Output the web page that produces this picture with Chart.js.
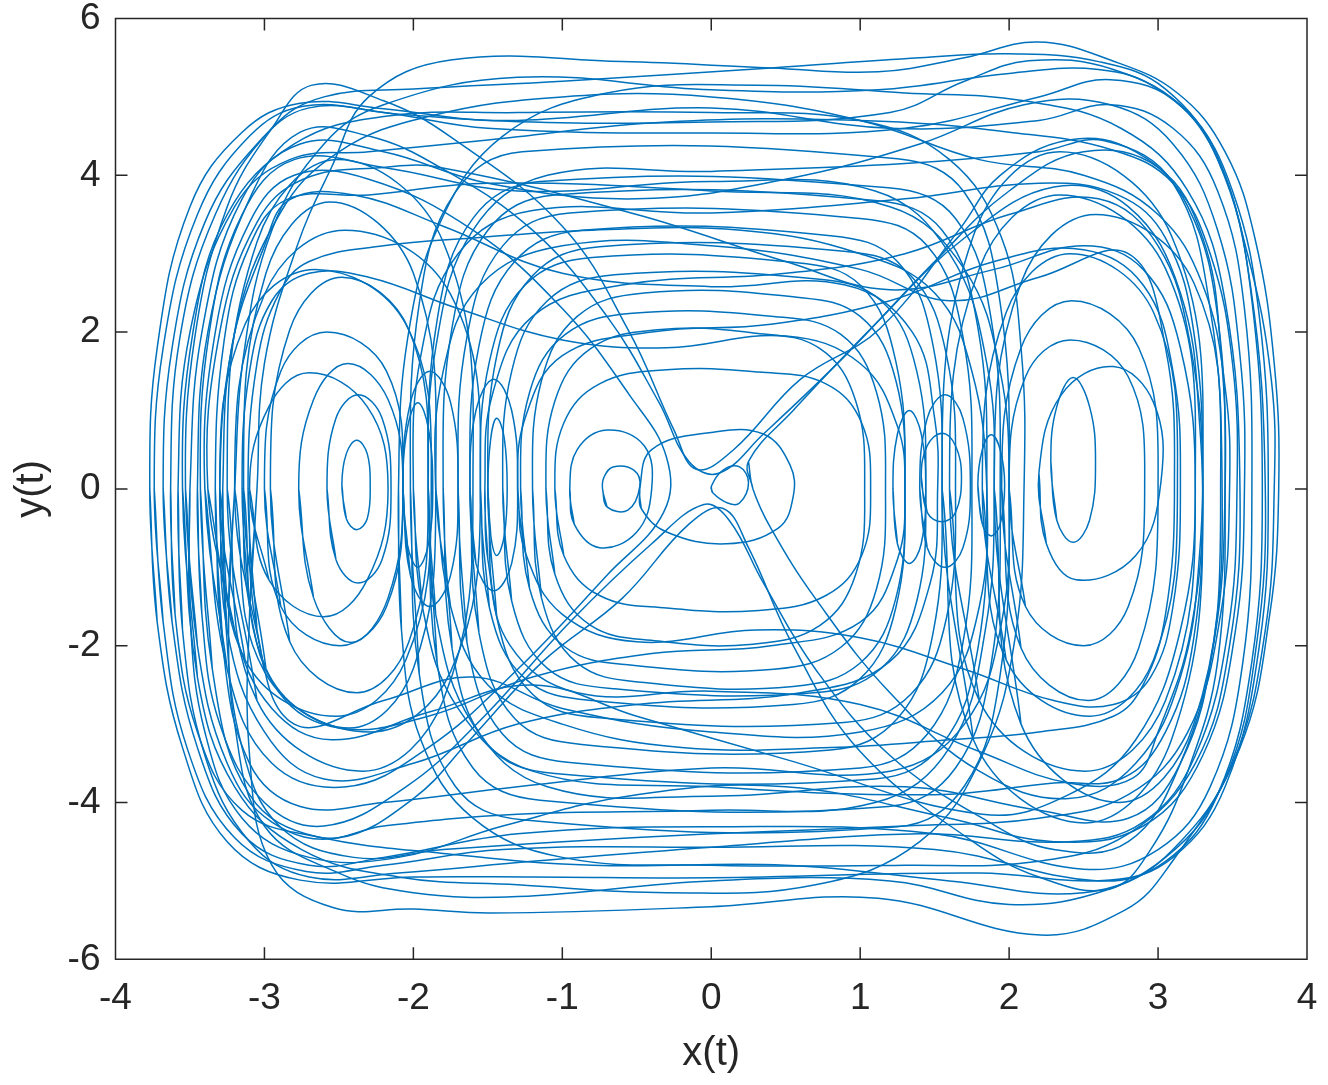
<!DOCTYPE html>
<html>
<head>
    <meta charset="utf-8">
    <title>Phase portrait</title>
    <script src="https://cdn.jsdelivr.net/npm/chart.js"></script>
    <style>
        html, body { margin: 0; padding: 0; background: #fff; }
        #wrap { width: 1328px; height: 1085px; }
    </style>
</head>
<body>
    <div id="wrap"><canvas id="phaseChart" width="1328" height="1085"></canvas></div>
    <script>
        // tick labels
        var xTicks = [-4, -3, -2, -1, 0, 1, 2, 3, 4];
        var yTicks = [-6, -4, -2, 0, 2, 4, 6];

        // trajectory as [x, y] points, each loop traced clockwise
        var bigLoops = [
            [[-3.05,0],[-3.0,1.6],[-2.78,3.1],[-2.55,4.1],[-2.3,5.0],[-1.75,5.47],[-0.6,5.45],[0.4,5.37],[1.12,5.32],[1.7,5.5],[2.19,5.7],[2.68,5.47],[3.13,5.05],[3.45,4.3],[3.65,3.2],[3.78,1.6],[3.81,0],[3.75,-1.6],[3.55,-3.3],[3.07,-4.82],[2.78,-5.37],[2.21,-5.69],[1.12,-5.22],[0,-5.33],[-1.48,-5.41],[-2.0,-5.36],[-2.54,-5.34],[-2.95,-4.8],[-3.1,-3.4],[-3.1,-1.6]],
            [[-3.77,0],[-3.72,1.8],[-3.5,3.6],[-3.15,4.55],[-2.76,4.92],[-2.2,4.85],[-1.5,4.7],[0,4.68],[1.2,4.8],[1.7,5.2],[2.13,5.46],[2.7,5.35],[3.2,4.8],[3.5,3.8],[3.68,2.2],[3.74,0],[3.68,-2.0],[3.45,-3.8],[3.1,-4.7],[2.68,-4.99],[1.8,-4.9],[0,-4.96],[-1.2,-4.95],[-2.0,-4.95],[-2.76,-4.99],[-3.25,-4.5],[-3.55,-3.3],[-3.72,-1.7]],
            [[-3.74,0],[-3.68,1.8],[-3.45,3.5],[-3.1,4.5],[-2.74,4.88],[-2.2,4.8],[-1.5,4.6],[0,4.54],[1.3,4.6],[2.2,5.0],[2.68,5.22],[3.15,4.9],[3.45,4.0],[3.63,2.4],[3.7,0],[3.63,-2.2],[3.4,-3.9],[3.05,-4.75],[2.6,-5.0],[1.5,-4.6],[0,-4.57],[-1.4,-4.6],[-2.2,-4.8],[-2.72,-4.88],[-3.2,-4.45],[-3.52,-3.3],[-3.68,-1.7]],
            [[-3.68,0],[-3.62,1.8],[-3.4,3.4],[-3.05,4.4],[-2.7,4.86],[-2.1,4.78],[-1.3,4.7],[0,4.86],[1.2,4.6],[2.2,4.7],[2.68,4.9],[3.1,4.6],[3.4,3.8],[3.58,2.3],[3.63,0],[3.57,-2.2],[3.35,-3.8],[3.0,-4.6],[2.5,-4.85],[1.5,-4.4],[0,-4.31],[-1.3,-4.4],[-2.2,-4.7],[-2.7,-4.8],[-3.15,-4.4],[-3.45,-3.3],[-3.62,-1.7]],
            [[-3.63,0],[-3.57,1.9],[-3.33,3.5],[-2.95,4.6],[-2.6,5.0],[-2.0,5.1],[-1.0,5.2],[0.4,5.37],[1.4,5.5],[2.0,5.55],[2.6,5.45],[3.05,5.1],[3.4,4.2],[3.62,2.6],[3.72,0],[3.66,-2.0],[3.45,-3.7],[3.05,-4.7],[2.5,-5.15],[1.6,-5.0],[0.5,-4.8],[-0.8,-4.8],[-1.8,-4.65],[-2.64,-4.44],[-3.15,-4.1],[-3.45,-3.1],[-3.6,-1.6]],
            [[-3.58,0],[-3.5,2.0],[-3.2,3.6],[-2.83,4.2],[-2.3,4.3],[-1.5,4.45],[-0.3,4.68],[1.0,4.7],[2.0,4.55],[2.7,4.32],[3.1,3.9],[3.35,3.0],[3.5,1.6],[3.53,0],[3.47,-1.8],[3.25,-3.4],[2.9,-4.25],[2.4,-4.5],[1.4,-4.4],[0,-4.57],[-1.2,-4.75],[-2.1,-4.9],[-2.7,-4.95],[-3.1,-4.5],[-3.4,-3.4],[-3.55,-1.8]],
            [[-3.2,0],[-3.14,1.7],[-2.95,3.3],[-2.6,4.4],[-2.2,4.9],[-1.3,5.25],[0,5.09],[1.12,5.09],[2.0,5.3],[2.6,5.35],[3.0,5.1],[3.35,4.4],[3.6,3.0],[3.76,1.4],[3.78,0],[3.72,-1.8],[3.5,-3.5],[3.1,-4.6],[2.68,-5.1],[2.0,-5.3],[1.2,-5.0],[0,-5.0],[-1.3,-5.2],[-2.0,-5.15],[-2.5,-4.9],[-3.0,-4.3],[-3.2,-3.0],[-3.24,-1.5]]
        ];

        var diagonalLoops = [
            [[-2.1,0],[-2.04,1.9],[-1.82,3.4],[-1.4,4.5],[-0.7,5.05],[0.3,5.15],[1.3,5.05],[2.1,4.95],[2.75,4.6],[3.2,3.8],[3.45,2.4],[3.55,0],[3.48,-2.0],[3.25,-3.5],[2.8,-4.4],[2.2,-4.75],[1.3,-4.8],[0,-4.8],[-1.0,-4.7],[-1.6,-4.2],[-1.95,-3.2],[-2.08,-1.8]],
            [[-3.5,0],[-3.42,2.0],[-3.15,3.7],[-2.76,4.4],[-2.2,4.3],[-1.5,3.9],[-0.5,3.7],[0.5,3.95],[1.4,4.4],[2.1,4.9],[2.68,4.9],[3.1,4.4],[3.4,3.3],[3.55,1.7],[3.58,0],[3.52,-1.8],[3.3,-3.4],[2.9,-4.3],[2.3,-4.5],[1.6,-4.2],[0.5,-3.8],[-0.5,-3.9],[-1.4,-4.3],[-2.1,-4.7],[-2.7,-4.7],[-3.15,-4.2],[-3.4,-3.1],[-3.5,-1.6]],
            [[-3.28,0],[-3.2,2.0],[-2.9,3.5],[-2.5,4.3],[-1.9,4.75],[-1.0,5.0],[0,5.0],[1.0,4.7],[1.8,4.2],[2.5,4.0],[3.0,3.5],[3.3,2.6],[3.45,1.3],[3.48,0],[3.42,-1.6],[3.2,-3.1],[2.8,-3.9],[2.2,-4.2],[1.3,-4.3],[0,-4.4],[-1.0,-4.5],[-1.8,-4.6],[-2.4,-4.7],[-2.9,-4.3],[-3.15,-3.3],[-3.26,-1.7]],
            [[-3.55,0],[-3.48,2.0],[-3.25,3.5],[-2.8,4.4],[-2.2,4.75],[-1.3,4.8],[0,4.8],[1.0,4.7],[1.6,4.2],[1.95,3.2],[2.08,1.8],[2.1,0],[2.04,-1.9],[1.82,-3.4],[1.4,-4.5],[0.7,-5.05],[-0.3,-5.15],[-1.3,-5.05],[-2.1,-4.95],[-2.75,-4.6],[-3.2,-3.8],[-3.45,-2.4]]
        ];

        var pinchedLoops = [
            [[-3.53,0],[-3.47,1.9],[-3.25,3.6],[-2.95,4.6],[-2.68,5.15],[-2.2,4.95],[-1.75,4.49],[-1.0,3.35],[-0.55,2.0],[-0.25,0.75],[-0.1,0.25],[0.15,0.5],[0.6,1.4],[1.13,2.04],[1.67,3.32],[1.94,4.0],[2.4,4.45],[2.85,4.3],[3.2,3.6],[3.4,2.2],[3.45,0],[3.4,-2.2],[3.2,-3.6],[2.95,-4.6],[2.68,-5.1],[2.2,-4.95],[1.75,-4.49],[1.0,-3.35],[0.55,-2.0],[0.25,-0.75],[0.08,-0.25],[-0.15,-0.45],[-0.6,-1.4],[-1.13,-2.2],[-1.62,-3.2],[-2.0,-3.95],[-2.5,-4.45],[-2.95,-4.25],[-3.25,-3.5],[-3.45,-2.0]],
            [[-3.45,0],[-3.38,2.0],[-3.1,3.7],[-2.76,4.55],[-2.3,4.5],[-1.82,4.1],[-1.2,3.3],[-0.7,2.2],[-0.35,1.1],[-0.15,0.35],[0.05,0.2],[0.35,0.7],[0.9,1.7],[1.5,2.9],[2.0,3.8],[2.5,4.3],[3.0,4.1],[3.3,3.2],[3.42,1.8],[3.45,0],[3.38,-1.9],[3.15,-3.5],[2.8,-4.5],[2.3,-4.6],[1.82,-4.2],[1.2,-3.4],[0.7,-2.3],[0.35,-1.2],[0.12,-0.4],[-0.05,-0.2],[-0.4,-0.7],[-0.95,-1.7],[-1.55,-2.95],[-2.05,-3.8],[-2.6,-4.3],[-3.0,-4.0],[-3.3,-3.0],[-3.42,-1.6]],
            [[-3.38,0],[-3.3,2.0],[-3.05,3.4],[-2.74,3.95],[-2.2,4.1],[-1.82,4.1],[-0.5,3.5],[0.5,2.9],[1.2,2.54],[1.9,2.8],[2.5,3.1],[2.9,2.8],[3.15,1.8],[3.25,0],[3.15,-1.8],[2.85,-3.2],[2.4,-3.9],[1.82,-4.15],[0.5,-3.45],[-0.5,-2.9],[-1.2,-2.5],[-1.9,-2.85],[-2.55,-3.2],[-2.95,-2.8],[-3.2,-1.8]],
            [[-3.4,0],[-3.33,2.0],[-3.1,3.4],[-2.8,4.0],[-2.3,3.95],[-1.6,3.3],[-1.0,2.3],[-0.55,1.2],[-0.3,0.4],[-0.32,-0.3],[-0.7,-1.1],[-1.3,-2.3],[-1.9,-3.3],[-2.45,-3.8],[-2.95,-3.5],[-3.25,-2.3]],
            [[0.25,0.35],[0.55,1.0],[1.1,2.1],[1.7,3.2],[2.3,3.85],[2.8,3.6],[3.15,2.5],[3.28,0.8],[3.28,-0.8],[3.15,-2.4],[2.85,-3.5],[2.4,-3.95],[1.8,-3.6],[1.2,-2.6],[0.7,-1.4],[0.4,-0.5],[0.28,0]]
        ];

        var transferLoops = [
            [[-3.3,0],[-3.22,1.8],[-3.0,3.1],[-2.83,3.69],[-2.4,3.75],[-1.8,3.35],[-1.0,2.75],[0,2.58],[0.9,2.6],[1.35,2.0],[1.5,0.9],[1.52,0],[1.47,-1.2],[1.2,-2.2],[0.6,-2.6],[-0.5,-2.75],[-1.3,-3.0],[-2.0,-3.5],[-2.6,-3.7],[-3.0,-3.1],[-3.25,-1.8]],
            [[-3.11,0],[-3.05,1.6],[-2.9,2.5],[-2.7,2.9],[-2.2,3.1],[-1.6,3.2],[-0.8,3.3],[0.2,3.3],[1.0,3.0],[1.5,2.5],[1.75,1.5],[1.85,0],[1.8,-1.5],[1.55,-2.6],[1.0,-3.1],[0,-3.1],[-1.0,-2.8],[-1.6,-2.4],[-2.2,-2.7],[-2.8,-3.0],[-3.05,-1.8]],
            [[-3.15,0],[-3.1,1.5],[-2.95,2.4],[-2.7,2.75],[-2.3,2.7],[-1.7,2.3],[-1.0,1.9],[-0.3,1.8],[0.5,1.95],[1.0,1.6],[1.25,0.8],[1.3,0],[1.25,-0.9],[1.0,-1.7],[0.4,-2.0],[-0.4,-2.1],[-1.2,-2.4],[-1.9,-2.9],[-2.5,-3.05],[-2.9,-2.6],[-3.1,-1.5]],
            [[-1.52,0],[-1.47,1.2],[-1.2,2.2],[-0.6,2.6],[0.5,2.75],[1.3,3.0],[2.0,3.5],[2.6,3.7],[3.0,3.1],[3.22,1.8],[3.3,0],[3.22,-1.8],[3.0,-3.1],[2.83,-3.69],[2.4,-3.75],[1.8,-3.35],[1.0,-2.75],[0,-2.58],[-0.9,-2.6],[-1.35,-2.0],[-1.5,-0.9]],
            [[-1.85,0],[-1.8,1.5],[-1.55,2.6],[-1.0,3.1],[0,3.1],[1.0,2.8],[1.6,2.4],[2.2,2.7],[2.8,3.0],[3.05,1.8],[3.11,0],[3.05,-1.6],[2.9,-2.5],[2.7,-2.9],[2.2,-3.1],[1.6,-3.2],[0.8,-3.3],[-0.2,-3.3],[-1.0,-3.0],[-1.5,-2.5],[-1.75,-1.5]],
            [[-1.3,0],[-1.25,0.9],[-1.0,1.7],[-0.4,2.0],[0.4,2.1],[1.2,2.4],[1.9,2.9],[2.5,3.05],[2.9,2.6],[3.1,1.5],[3.15,0],[3.1,-1.5],[2.95,-2.4],[2.7,-2.75],[2.3,-2.7],[1.7,-2.3],[1.0,-1.9],[0.3,-1.8],[-0.5,-1.95],[-1.0,-1.6],[-1.25,-0.8]]
        ];

        var mixedLoops = [
            [[-3.33,0],[-3.27,1.9],[-3.1,3.1],[-2.85,3.69],[-2.3,3.75],[-1.5,3.9],[0,3.8],[1.2,3.6],[1.7,2.8],[1.94,1.5],[2.0,0],[1.95,-1.7],[1.7,-3.0],[1.2,-3.6],[0,-3.56],[-1.3,-3.8],[-2.2,-4.0],[-2.76,-4.05],[-3.1,-3.5],[-3.28,-2.0]],
            [[-3.43,0],[-3.37,2.0],[-3.15,3.5],[-2.8,4.2],[-2.2,4.1],[-1.3,3.8],[0,3.92],[1.1,3.8],[1.6,3.0],[1.85,1.6],[1.9,0],[1.84,-1.8],[1.6,-3.3],[1.1,-4.0],[0,-4.1],[-1.3,-4.15],[-2.2,-4.3],[-2.64,-4.44],[-3.1,-3.9],[-3.35,-2.3]],
            [[-2.0,0],[-1.95,1.7],[-1.7,3.0],[-1.2,3.55],[0,3.52],[1.3,3.7],[2.2,3.9],[2.73,3.75],[3.05,3.2],[3.24,2.0],[3.3,0],[3.24,-1.9],[3.05,-3.1],[2.76,-3.69],[2.3,-3.75],[1.5,-3.9],[0,-3.8],[-1.2,-3.6],[-1.7,-2.8],[-1.94,-1.5]],
            [[-1.9,0],[-1.85,1.8],[-1.6,3.3],[-1.1,4.0],[0,4.05],[1.3,4.15],[2.2,4.3],[2.64,4.44],[3.1,3.9],[3.35,2.3],[3.43,0],[3.37,-2.0],[3.15,-3.5],[2.8,-4.2],[2.2,-4.1],[1.3,-3.8],[0,-3.92],[-1.1,-3.8],[-1.6,-3.0],[-1.85,-1.6]]
        ];

        var centerLoops = [
            [[-1.05,0],[-0.99,0.84],[-0.75,1.34],[-0.3,1.52],[0.32,1.49],[0.77,1.34],[1.01,0.84],[1.07,0],[1.01,-0.85],[0.77,-1.36],[0.32,-1.55],[-0.3,-1.52],[-0.75,-1.36],[-0.99,-0.85]],
            [[-1.11,0],[-1.05,1.12],[-0.81,1.79],[-0.36,2.03],[0.28,1.99],[0.73,1.79],[0.97,1.12],[1.03,0],[0.97,-1.09],[0.73,-1.74],[0.28,-1.98],[-0.36,-1.94],[-0.81,-1.74],[-1.05,-1.09]],
            [[-1.28,0],[-1.22,1.23],[-0.98,1.97],[-0.53,2.24],[0.42,2.2],[0.87,1.97],[1.11,1.23],[1.17,0],[1.11,-1.27],[0.87,-2.02],[0.42,-2.3],[-0.53,-2.25],[-0.98,-2.02],[-1.22,-1.27]],
            [[-1.2,0],[-1.14,1.38],[-0.9,2.2],[-0.45,2.5],[0.55,2.45],[1.0,2.2],[1.24,1.38],[1.3,0],[1.24,-1.39],[1.0,-2.22],[0.55,-2.52],[-0.45,-2.47],[-0.9,-2.22],[-1.14,-1.39]],
            [[-1.4,0],[-1.34,1.5],[-1.1,2.4],[-0.65,2.73],[0.69,2.68],[1.14,2.4],[1.38,1.5],[1.44,0],[1.38,-1.43],[1.14,-2.29],[0.69,-2.6],[-0.65,-2.55],[-1.1,-2.29],[-1.34,-1.43]],
            [[-1.55,0],[-1.49,1.62],[-1.25,2.6],[-0.8,2.95],[0.55,2.89],[1.0,2.6],[1.24,1.62],[1.3,0],[1.24,-1.51],[1.0,-2.42],[0.55,-2.75],[-0.8,-2.7],[-1.25,-2.42],[-1.49,-1.51]],
            [[-1.5,0],[-1.44,1.7],[-1.2,2.72],[-0.75,3.09],[0.89,3.03],[1.34,2.72],[1.58,1.7],[1.64,0],[1.58,-1.64],[1.34,-2.62],[0.89,-2.98],[-0.75,-2.92],[-1.2,-2.62],[-1.44,-1.64]],
            [[-1.62,0],[-1.56,1.82],[-1.32,2.9],[-0.87,3.3],[0.8,3.23],[1.25,2.9],[1.49,1.82],[1.55,0],[1.49,-1.83],[1.25,-2.93],[0.8,-3.33],[-0.87,-3.26],[-1.32,-2.93],[-1.56,-1.83]],
            [[-1.7,0],[-1.64,1.94],[-1.4,3.1],[-0.95,3.52],[1.0,3.45],[1.45,3.1],[1.69,1.94],[1.75,0],[1.69,-1.96],[1.45,-3.13],[1.0,-3.56],[-0.95,-3.49],[-1.4,-3.13],[-1.64,-1.96]],
            [[-1.8,0],[-1.74,2.06],[-1.5,3.3],[-1.05,3.75],[1.1,3.68],[1.55,3.3],[1.79,2.06],[1.85,0],[1.79,-2.04],[1.55,-3.26],[1.1,-3.7],[-1.05,-3.63],[-1.5,-3.26],[-1.74,-2.04]],
            [[-1.9,0],[-1.84,2.16],[-1.6,3.45],[-1.15,3.92],[1.19,3.84],[1.64,3.45],[1.88,2.16],[1.94,0],[1.88,-2.23],[1.64,-3.56],[1.19,-4.05],[-1.15,-3.97],[-1.6,-3.56],[-1.84,-2.23]],
            [[-2.02,0],[-1.96,2.37],[-1.72,3.78],[-1.27,4.3],[1.25,4.21],[1.7,3.78],[1.94,2.37],[2.0,0],[1.94,-2.37],[1.7,-3.79],[1.25,-4.31],[-1.27,-4.22],[-1.72,-3.79],[-1.96,-2.37]]
        ];

        var leftWellLoops = [
            [[-2.96,0],[-2.83,2.03],[-2.48,2.7],[-2.03,2.03],[-1.9,0],[-2.03,-1.95],[-2.38,-2.6],[-2.83,-1.95]],
            [[-3.0,0],[-2.89,1.5],[-2.58,2.0],[-2.18,1.5],[-2.07,0],[-2.18,-1.5],[-2.49,-2.0],[-2.89,-1.5]],
            [[-3.14,0],[-2.99,2.75],[-2.56,3.66],[-2.0,2.75],[-1.85,0],[-2.0,-2.29],[-2.43,-3.05],[-2.99,-2.29]],
            [[-3.2,0],[-3.0,2.48],[-2.46,3.3],[-1.75,2.48],[-1.55,0],[-1.75,-2.33],[-2.29,-3.1],[-3.0,-2.33]],
            [[-3.25,0],[-3.05,3.15],[-2.51,4.2],[-1.8,3.15],[-1.6,0],[-1.8,-2.7],[-2.34,-3.6],[-3.05,-2.7]],
            [[-3.3,0],[-3.13,2.1],[-2.66,2.8],[-2.05,2.1],[-1.88,0],[-2.05,-2.18],[-2.52,-2.9],[-3.13,-2.18]]
        ];

        var rightWellLoops = [
            [[2.0,0],[2.11,1.43],[2.41,1.9],[2.8,1.43],[2.91,0],[2.8,-1.5],[2.5,-2.0],[2.11,-1.5]],
            [[1.95,0],[2.08,1.8],[2.42,2.4],[2.87,1.8],[3.0,0],[2.87,-2.03],[2.53,-2.7],[2.08,-2.03]],
            [[1.82,0],[1.98,2.25],[2.41,3.0],[2.97,2.25],[3.13,0],[2.97,-2.18],[2.54,-2.9],[1.98,-2.18]],
            [[1.9,0],[2.08,2.63],[2.58,3.5],[3.24,2.63],[3.42,0],[3.24,-3.0],[2.74,-4.0],[2.08,-3.0]],
            [[1.6,0],[1.8,2.81],[2.34,3.75],[3.05,2.81],[3.25,0],[3.05,-2.7],[2.51,-3.6],[1.8,-2.7]],
            [[1.55,0],[1.76,3.23],[2.34,4.3],[3.09,3.23],[3.3,0],[3.09,-3.2],[2.51,-4.26],[1.76,-3.2]]
        ];

        var smallLoops = [
            [[-3.1,0],[-2.97,1.05],[-2.7,1.48],[-2.31,1.05],[-2.17,0],[-2.31,-1.16],[-2.6,-1.63],[-2.97,-1.16]],
            [[-2.77,0],[-2.67,1.14],[-2.44,1.6],[-2.17,1.14],[-2.07,0],[-2.17,-1.39],[-2.42,-1.96],[-2.67,-1.39]],
            [[-2.58,0],[-2.52,0.9],[-2.37,1.2],[-2.21,0.9],[-2.15,0],[-2.21,-0.9],[-2.37,-1.2],[-2.52,-0.9]],
            [[-2.48,0.05],[-2.45,0.45],[-2.38,0.62],[-2.31,0.45],[-2.29,0.05],[-2.31,-0.38],[-2.38,-0.52],[-2.45,-0.38]],
            [[-2.07,0],[-2.02,1.1],[-1.89,1.5],[-1.75,1.1],[-1.7,0],[-1.75,-1.1],[-1.89,-1.5],[-2.02,-1.1]],
            [[-2.07,0],[-2.04,0.78],[-1.97,1.1],[-1.9,0.78],[-1.87,0],[-1.9,-0.71],[-1.97,-1.0],[-2.04,-0.71]],
            [[-1.62,0],[-1.58,1.0],[-1.46,1.4],[-1.34,1.0],[-1.3,0],[-1.34,-0.95],[-1.46,-1.3],[-1.58,-0.95]],
            [[-1.5,0],[-1.48,0.65],[-1.44,0.9],[-1.39,0.65],[-1.37,0],[-1.39,-0.6],[-1.44,-0.85],[-1.48,-0.6]],
            [[1.22,0],[1.25,0.7],[1.33,1.0],[1.41,0.7],[1.44,0],[1.41,-0.7],[1.33,-0.95],[1.25,-0.7]],
            [[1.41,0.15],[1.45,0.55],[1.55,0.71],[1.64,0.55],[1.68,0.15],[1.64,-0.3],[1.55,-0.42],[1.45,-0.3]],
            [[1.4,0],[1.45,0.9],[1.57,1.2],[1.69,0.9],[1.74,0],[1.69,-0.75],[1.57,-1.0],[1.45,-0.75]],
            [[1.79,0.05],[1.82,0.5],[1.88,0.69],[1.94,0.5],[1.97,0.05],[1.94,-0.45],[1.88,-0.6],[1.82,-0.45]],
            [[2.28,0.35],[2.32,1.05],[2.43,1.42],[2.54,1.05],[2.58,0.35],[2.54,-0.4],[2.43,-0.68],[2.32,-0.4]],
            [[2.2,0.2],[2.35,1.2],[2.7,1.56],[2.97,1.1],[3.02,0.1],[2.85,-0.85],[2.45,-1.16],[2.25,-0.7]]
        ];

        var centerLobes = [
            [[-0.95,0],[-0.9,0.5],[-0.7,0.75],[-0.45,0.55],[-0.4,0.0],[-0.5,-0.55],[-0.75,-0.75],[-0.92,-0.45]],
            [[-0.73,0],[-0.72,0.15],[-0.66,0.28],[-0.52,0.24],[-0.48,0.03],[-0.56,-0.27],[-0.7,-0.23]],
            [[0,0.03],[0.08,0.24],[0.19,0.28],[0.25,0.08],[0.19,-0.18],[0.11,-0.18],[0.01,-0.05]],
            [[-0.48,0.0],[-0.4,0.5],[0.0,0.72],[0.35,0.7],[0.53,0.3],[0.55,-0.1],[0.45,-0.5],[0.1,-0.7],[-0.3,-0.55],[-0.47,-0.25]]
        ];

        var families = [bigLoops, diagonalLoops, pinchedLoops, transferLoops, mixedLoops,
                        centerLoops, leftWellLoops, rightWellLoops, smallLoops, centerLobes];

        // every loop is drawn closed: it starts from its own last point and ends back on its first
        function toPoints(loop) {
            var pts = [loop[loop.length - 1]].concat(loop, [loop[0]]);
            return pts.map(function(p) { return { x: p[0], y: p[1] }; });
        }

        var datasets = [];
        families.forEach(function(fam) {
            fam.forEach(function(loop) {
                datasets.push({
                    data: toPoints(loop),
                    showLine: true,
                    borderColor: '#0072BD',
                    borderWidth: 1.5,
                    pointRadius: 0,
                    tension: 0.4,
                    fill: false
                });
            });
        });

        // box round the plot and inward tick marks on all four sides
        var boxPlugin = {
            id: 'box',
            afterDraw: function(chart) {
                var ctx = chart.ctx, a = chart.chartArea;
                var xs = chart.scales.x, ys = chart.scales.y;
                ctx.save();
                ctx.strokeStyle = '#262626';
                ctx.lineWidth = 1.5;
                ctx.beginPath();
                ctx.rect(a.left, a.top, a.right - a.left, a.bottom - a.top);
                xTicks.forEach(function(v) {
                    var px = xs.getPixelForValue(v);
                    ctx.moveTo(px, a.bottom); ctx.lineTo(px, a.bottom - 12);
                    ctx.moveTo(px, a.top); ctx.lineTo(px, a.top + 12);
                });
                yTicks.forEach(function(v) {
                    var py = ys.getPixelForValue(v);
                    ctx.moveTo(a.left, py); ctx.lineTo(a.left + 12, py);
                    ctx.moveTo(a.right, py); ctx.lineTo(a.right - 12, py);
                });
                ctx.stroke();
                ctx.restore();
            }
        };

        var fontFamily = '"Liberation Sans", Arial, Helvetica, sans-serif';

        new Chart(document.getElementById('phaseChart'), {
            type: 'scatter',
            data: { datasets: datasets },
            options: {
                responsive: false,
                animation: false,
                events: [],
                layout: { padding: { top: 18.5, right: 21, left: 0, bottom: 0 } },
                plugins: { legend: { display: false }, tooltip: { enabled: false } },
                scales: {
                    x: {
                        type: 'linear', min: -4, max: 4,
                        afterBuildTicks: function(s) { s.ticks = xTicks.map(function(v) { return { value: v }; }); },
                        afterFit: function(s) { s.height = 125.7; s.paddingLeft = 0; s.paddingRight = 0; },
                        grid: { display: false, drawTicks: false },
                        border: { display: false },
                        ticks: {
                            color: '#262626', padding: 17, maxRotation: 0, autoSkip: false,
                            font: { family: fontFamily, size: 37, lineHeight: 1.2 },
                            callback: function(v) { return String(v); }
                        },
                        title: {
                            display: true, text: 'x(t)', color: '#262626',
                            font: { family: fontFamily, size: 40, lineHeight: 1.2 },
                            padding: { top: 0, bottom: 6.6 }
                        }
                    },
                    y: {
                        type: 'linear', min: -6, max: 6,
                        afterBuildTicks: function(s) { s.ticks = yTicks.map(function(v) { return { value: v }; }); },
                        afterFit: function(s) { s.width = 115.5; s.paddingTop = 0; s.paddingBottom = 0; },
                        grid: { display: false, drawTicks: false },
                        border: { display: false },
                        ticks: {
                            color: '#262626', padding: 15, autoSkip: false,
                            font: { family: fontFamily, size: 37, lineHeight: 1.0 },
                            callback: function(v) { return String(v); }
                        },
                        title: {
                            display: true, text: 'y(t)', color: '#262626',
                            font: { family: fontFamily, size: 40, lineHeight: 1.2 },
                            padding: { top: 8.4, bottom: 0 }
                        }
                    }
                }
            },
            plugins: [boxPlugin]
        });
    </script>
</body>
</html>
